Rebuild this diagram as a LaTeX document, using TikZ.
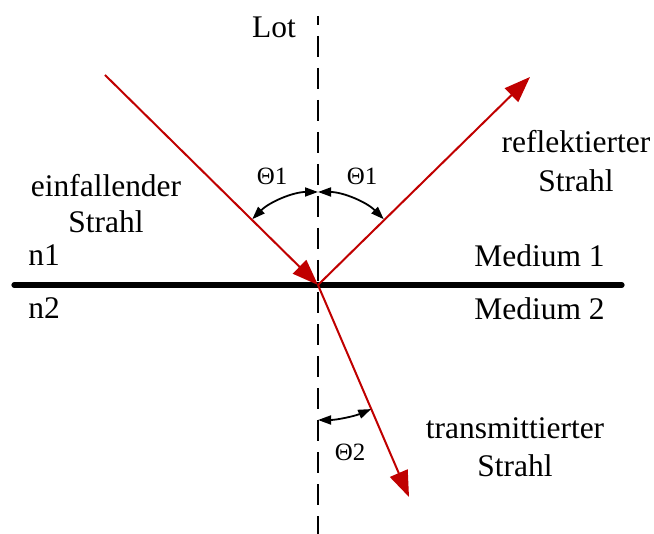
\documentclass[tikz,border=0pt]{standalone}
\usepackage{fontspec}
\setmainfont{Liberation Serif}
\usetikzlibrary{arrows.meta,calc}
\definecolor{rayred}{HTML}{C00000}
\begin{document}
\begin{tikzpicture}[x=0.5bp,y=0.5bp,
  ray/.style={draw=rayred,line width=1bp,-{Triangle[length=13bp,width=9.5bp]}},
  angarc/.style={draw=black,line width=0.9bp,{Triangle[length=6.5bp,width=4.5bp]}-{Triangle[length=6.5bp,width=4.5bp]}},
  lbl/.style={font=\fontsize{15.8}{19.5}\selectfont,inner sep=0pt,align=center},
  anglbl/.style={font=\fontsize{12.5}{15}\selectfont,inner sep=0pt}]
\useasboundingbox (0,0) rectangle (654,534);
\coordinate (O) at (318,249);
\coordinate (lotTop) at (318,518);
\coordinate (lotBot) at (318,0);
\coordinate (surfL) at (14,249);
\coordinate (surfR) at (622,249);
\coordinate (inStart) at (105,459);
\coordinate (reflTip) at (530,457);
\coordinate (transTip) at (409,37);
% normal
\draw[line width=1.1bp,dash pattern=on 10.5bp off 5.5bp,dash phase=6bp] (lotTop) -- (lotBot);
% surface
\draw[line width=2.6bp,line cap=round] (surfL) -- (surfR);
% rays
\draw[ray] (inStart) -- (O);
\draw[ray] (O) -- (reflTip);
\draw[ray] (O) -- (transTip);
% angle arcs
\draw[angarc] ($(O)+(135:93)$) arc[start angle=135,end angle=90,radius=93];
\draw[angarc] ($(O)+(90:93)$) arc[start angle=90,end angle=45,radius=93];
\draw[angarc] ($(O)+(-90:135)$) arc[start angle=-90,end angle=-66.8,radius=135];
% labels
\node[lbl,anchor=base] (lot) at (274,496) {Lot};
\node[lbl,anchor=base] (einf) at (106,301) {einfallender\\[-1bp]Strahl};
\node[lbl,anchor=base west] (n1) at (28,268) {n1};
\node[lbl,anchor=base west] (n2) at (28,215) {n2};
\node[lbl,anchor=base west] (m1) at (474,267) {Medium 1};
\node[lbl,anchor=base west] (m2) at (474,214) {Medium 2};
\node[lbl,anchor=base] (refl) at (576,342) {reflektierter\\[0.5bp]Strahl};
\node[lbl,anchor=base] (trans) at (515,57) {transmittierter\\Strahl};
\node[anglbl,anchor=base] (t1l) at (272,349) {Θ1};
\node[anglbl,anchor=base] (t1r) at (362,349) {Θ1};
\node[anglbl,anchor=base] (t2) at (350,73) {Θ2};
\end{tikzpicture}
\end{document}
